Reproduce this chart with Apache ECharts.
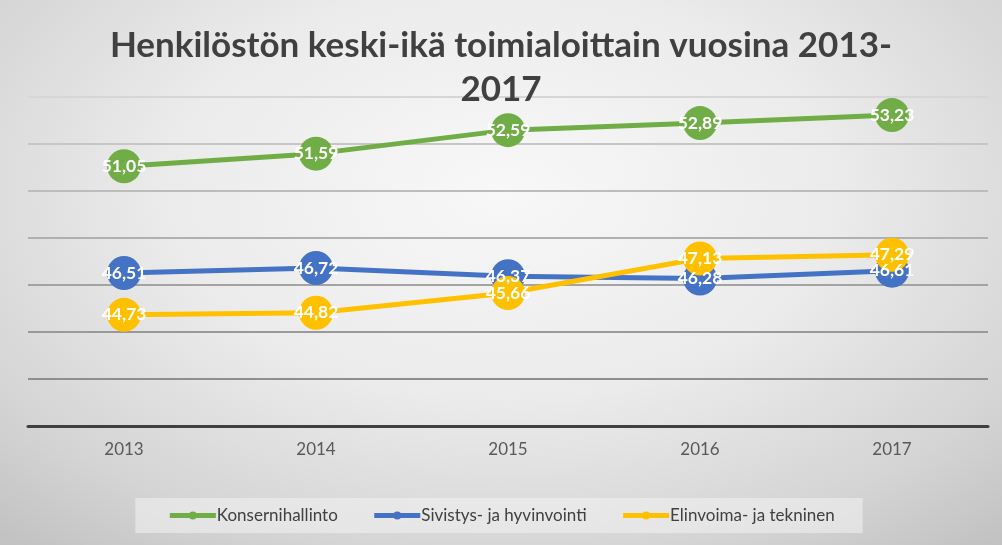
<!DOCTYPE html>
<html>
<head>
<meta charset="utf-8">
<script src="https://cdn.jsdelivr.net/npm/echarts@6/dist/echarts.min.js"></script>
<style>
html,body{margin:0;padding:0;}
#chart{width:1002px;height:545px;background:radial-gradient(ellipse 75% 85% at 50% 35%, #f8f8f8 0%, #ebebeb 45%, #d4d4d4 80%, #c2c2c2 100%);}
</style>
</head>
<body>
<div id="chart"></div>
<script>
const titleText = 'Henkilöstön keski-ikä toimialoittain vuosina 2013-\n2017';
const years = ['2013', '2014', '2015', '2016', '2017'];
const seriesNames = ['Konsernihallinto', 'Sivistys- ja hyvinvointi', 'Elinvoima- ja tekninen'];
const konsernihallinto = [51.05, 51.59, 52.59, 52.89, 53.23];
const sivistys = [46.51, 46.72, 46.37, 46.28, 46.61];
const elinvoima = [44.73, 44.82, 45.66, 47.13, 47.29];
const colors = ['#70AD47', '#4472C4', '#FFC000'];

const FONT = 'Lato';
const chart = echarts.init(document.getElementById('chart'), null, {renderer: 'canvas'});

function mkSeries(name, data, color) {
  return {
    name: name,
    type: 'line',
    data: data,
    symbol: 'circle',
    symbolSize: 34,
    color: color,
    lineStyle: {width: 5, color: color},
    itemStyle: {color: color},
    label: {
      show: true,
      position: 'inside',
      color: '#ffffff',
      fontFamily: FONT,
      fontWeight: 'bold',
      fontSize: 17.5,
      formatter: p => p.value.toFixed(2).replace('.', ',')
    },
    emphasis: {disabled: true},
    animation: false
  };
}

chart.setOption({
  backgroundColor: 'transparent',
  title: {
    text: titleText,
    left: 'center',
    top: 19,
    textStyle: {
      fontFamily: FONT,
      fontWeight: 'bold',
      fontSize: 35,
      color: '#404040',
      lineHeight: 44
    }
  },
  legend: {
    bottom: 12,
    left: 'center',
    data: seriesNames,
    itemWidth: 46,
    itemHeight: 10,
    itemGap: 34,
    padding: [9, 28, 9, 32],
    backgroundColor: 'rgba(240,240,240,0.6)',
    textStyle: {fontFamily: FONT, fontSize: 17, color: '#404040', padding: [0, 0, 0, -4]},
    lineStyle: {width: 5}
  },
  grid: {left: 28, right: 14, top: 97, bottom: 119, containLabel: false},
  xAxis: {
    type: 'category',
    data: years,
    boundaryGap: true,
    axisLine: {show: true, lineStyle: {color: '#404040', width: 3}},
    axisTick: {show: false},
    axisLabel: {fontFamily: FONT, fontSize: 17, color: '#595959', margin: 15}
  },
  yAxis: {
    type: 'value',
    min: 40,
    max: 54,
    interval: 2,
    axisLine: {show: false},
    axisTick: {show: false},
    axisLabel: {show: false},
    splitLine: {
      show: true,
      lineStyle: {
        width: 2,
        color: ['#404040', '#8e8e8e', '#999999', '#a3a3a3', '#b0b0b0', '#bcbcbc', '#c6c6c6', '#d6d6d6']
      }
    }
  },
  series: [
    mkSeries(seriesNames[0], konsernihallinto, colors[0]),
    mkSeries(seriesNames[1], sivistys, colors[1]),
    mkSeries(seriesNames[2], elinvoima, colors[2])
  ]
});
</script>
</body>
</html>
